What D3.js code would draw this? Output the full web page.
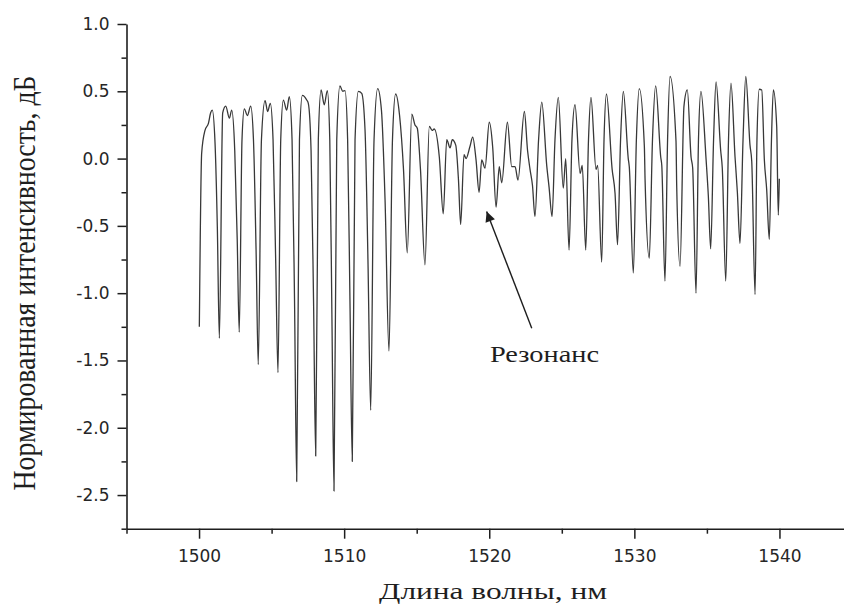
<!DOCTYPE html>
<html>
<head>
<meta charset="utf-8">
<script src="https://cdn.jsdelivr.net/npm/d3@7"></script>
<style>
  html, body { margin: 0; padding: 0; background: #fff; }
  svg { display: block; }
</style>
</head>
<body>
<svg id="chart" width="844" height="604"></svg>
<script>
// ---- data ----
const wavelength = [
  1500.02,1500.18,1500.41,1500.64,1500.80,1500.91,1501.10,1501.26,1501.40,
  1501.63,1501.84,1502.09,1502.25,1502.46,1502.63,1502.77,
  1502.96,1503.12,1503.33,1503.56,1503.75,1503.93,1504.08,
  1504.30,1504.55,1504.73,1504.91,1505.10,1505.28,1505.44,
  1505.63,1505.81,1506.04,1506.22,1506.41,1506.58,1506.73,
  1506.92,1507.12,1507.42,1507.53,1507.72,1507.89,1508.04,
  1508.22,1508.41,1508.63,1508.84,1509.01,1509.16,1509.30,
  1509.49,1509.71,1509.90,1510.06,1510.24,1510.40,1510.56,
  1510.75,1510.98,1511.21,1511.44,1511.64,1511.83,
  1512.06,1512.31,1512.57,1512.82,1513.09,
  1513.33,1513.55,1513.82,1514.09,1514.35,
  1514.66,1514.88,1515.04,1515.26,1515.57,
  1515.87,1516.06,1516.21,1516.56,1516.83,
  1517.07,1517.30,1517.45,1517.69,1517.88,1518.03,
  1518.26,1518.40,1518.67,1518.86,1519.09,1519.30,
  1519.48,1519.71,1520.00,1520.24,1520.47,
  1520.69,1520.86,1521.25,1521.55,1521.78,1521.98,
  1522.42,1522.64,1522.81,1522.98,1523.15,
  1523.40,1523.62,1523.96,1524.12,1524.33,
  1524.53,1524.76,1525.10,1525.27,1525.50,
  1525.70,1525.91,1526.26,1526.41,1526.65,
  1526.84,1527.01,1527.36,1527.47,1527.75,
  1527.91,1528.08,1528.47,1528.67,1528.84,
  1529.05,1529.24,1529.58,1529.65,1529.93,
  1530.14,1530.34,1530.69,1530.74,1531.03,
  1531.25,1531.47,1531.82,1531.89,1532.11,
  1532.29,1532.46,1532.87,1532.92,1533.15,
  1533.42,1533.65,1533.91,1534.02,1534.25,
  1534.42,1534.59,1534.94,1535.10,1535.26,
  1535.46,1535.63,1535.95,1536.06,1536.30,
  1536.49,1536.66,1536.94,1537.10,1537.28,
  1537.49,1537.68,1537.97,1538.09,1538.32,
  1538.45,1538.61,1538.78,1538.96,1539.12,1539.30,
  1539.45,1539.58,1539.81,1539.92,1539.99
];
const intensity = [
  -1.25,0.04,0.21,0.26,0.34,0.36,0.12,-0.51,-1.335,
  0.34,0.39,0.30,0.36,0.06,-0.60,-1.29,
  0.14,0.37,0.32,0.39,0.14,-0.68,-1.53,
  0.14,0.43,0.35,0.41,0.14,-0.75,-1.59,
  0.14,0.435,0.36,0.46,0.14,-1.05,-2.40,
  0.14,0.47,0.435,0.41,0.06,-1.05,-2.21,
  0.14,0.51,0.40,0.505,0.14,-1.20,-2.47,
  0.14,0.54,0.50,0.505,0.14,-1.05,-2.25,
  0.14,0.50,0.485,0.21,-0.75,-1.87,
  0.14,0.52,0.36,-0.31,-1.43,
  0.14,0.48,0.32,-0.08,-0.70,
  0.33,0.25,0.225,-0.08,-0.79,
  0.24,0.21,0.22,0.01,-0.41,
  0.14,0.08,0.14,0.10,-0.16,-0.49,
  0.03,0.00,0.09,0.16,-0.01,-0.25,
  -0.01,-0.07,0.27,0.08,-0.36,
  -0.06,-0.18,0.27,-0.06,-0.06,-0.16,
  0.35,0.06,-0.08,-0.20,-0.43,
  0.14,0.42,-0.05,-0.21,-0.43,
  0.14,0.455,-0.22,0.00,-0.68,
  0.14,0.40,-0.11,-0.05,-0.68,
  0.14,0.455,-0.08,-0.05,-0.77,
  0.14,0.48,-0.08,-0.26,-0.64,
  0.14,0.50,0.00,-0.06,-0.85,
  0.14,0.52,0.09,-0.16,-0.74,
  0.14,0.54,0.01,-0.05,-0.91,
  0.14,0.61,0.13,-0.21,-0.80,
  0.39,0.51,0.01,-0.07,-1.00,
  0.14,0.50,0.00,-0.28,-0.67,
  0.14,0.57,0.06,-0.07,-0.91,
  0.14,0.56,0.01,-0.25,-0.63,
  0.14,0.61,0.10,-0.02,-1.01,
  0.14,0.515,0.51,-0.01,-0.23,-0.60,
  0.14,0.51,0.24,-0.42,-0.15
];
const xMajorTicks = [1500, 1510, 1520, 1530, 1540];
const xMinorTicks = [1495, 1505, 1515, 1525, 1535, 1545];
const yMajorTicks = [-2.5, -2.0, -1.5, -1.0, -0.5, 0.0, 0.5, 1.0];
const yMinorTicks = [-2.75, -2.25, -1.75, -1.25, -0.75, -0.25, 0.25, 0.75];
const xTitle = "Длина волны, нм";
const yTitle = "Нормированная интенсивность, дБ";
const annotationText = "Резонанс";
const arrowTip = [1519.82, -0.394];
const arrowTail = [1522.93, -1.26];
const annotationPos = [1520.05, -1.51];

// ---- drawing ----
const svg = d3.select("#chart");
const x = d3.scaleLinear().domain([1495, 1545]).range([126.5, 852]);
const y = d3.scaleLinear().domain([-2.75, 1.0]).range([528.7, 24]);

const axisColor = "#1e1e1e";
const tickFont = "'DejaVu Sans', sans-serif";

// x axis
const gx = svg.append("g").attr("transform", `translate(0,${y(-2.75)})`);
gx.call(d3.axisBottom(x).tickValues(xMinorTicks).tickSize(5).tickSizeOuter(0).tickFormat(""));
gx.call(g => g.select(".domain").remove());
const gx2 = svg.append("g").attr("transform", `translate(0,${y(-2.75)})`);
gx2.call(d3.axisBottom(x).tickValues(xMajorTicks).tickSize(10).tickSizeOuter(0).tickPadding(11.5)
  .tickFormat(d => String(d)));
svg.selectAll("g .domain").attr("stroke", axisColor).attr("stroke-width", 1.6);

// y axis
const gy = svg.append("g").attr("transform", `translate(${x(1495)},0)`);
gy.call(d3.axisLeft(y).tickValues(yMinorTicks).tickSize(5).tickSizeOuter(0).tickFormat(""));
gy.call(g => g.select(".domain").remove());
const gy2 = svg.append("g").attr("transform", `translate(${x(1495)},0)`);
gy2.call(d3.axisLeft(y).tickValues(yMajorTicks).tickSize(9).tickSizeOuter(0).tickPadding(8)
  .tickFormat(d => d.toFixed(1)));

svg.selectAll(".domain").attr("stroke", axisColor).attr("stroke-width", 1.6);
svg.selectAll(".tick line").attr("stroke", axisColor).attr("stroke-width", 1.5);
svg.selectAll(".tick text").attr("font-family", tickFont).attr("font-size", 17).attr("fill", "#262626");

// spectrum line
const pts = wavelength.map((w, i) => [w, intensity[i]]);
svg.append("path")
  .datum(pts)
  .attr("fill", "none")
  .attr("stroke", "#383838")
  .attr("stroke-width", 1.3)
  .attr("stroke-linejoin", "round")
  .attr("d", d3.line().x(d => x(d[0])).y(d => y(d[1])).curve(d3.curveMonotoneX));

// axis titles
svg.append("text")
  .attr("x", 493).attr("y", 599)
  .attr("text-anchor", "middle")
  .attr("font-family", "'Liberation Serif', 'Times New Roman', serif")
  .attr("font-size", 24)
  .attr("textLength", 228).attr("lengthAdjust", "spacingAndGlyphs")
  .attr("fill", "#1e1e1e")
  .text(xTitle);

svg.append("text")
  .attr("transform", "translate(35,283) scale(1.25,1) rotate(-90)")
  .attr("text-anchor", "middle")
  .attr("font-family", "'Liberation Serif', 'Times New Roman', serif")
  .attr("font-size", 26)
  .attr("textLength", 415).attr("lengthAdjust", "spacingAndGlyphs")
  .attr("fill", "#1e1e1e")
  .text(yTitle);

// annotation
svg.append("defs").append("marker")
  .attr("id", "arrowhead")
  .attr("viewBox", "0 0 10 10")
  .attr("refX", 10).attr("refY", 5)
  .attr("markerWidth", 14).attr("markerHeight", 10)
  .attr("markerUnits", "userSpaceOnUse")
  .attr("orient", "auto")
  .append("path").attr("d", "M0,0 L10,5 L0,10 Z").attr("fill", "#1e1e1e");

svg.append("line")
  .attr("x1", x(arrowTail[0])).attr("y1", y(arrowTail[1]))
  .attr("x2", x(arrowTip[0])).attr("y2", y(arrowTip[1]))
  .attr("stroke", "#1e1e1e").attr("stroke-width", 1.4)
  .attr("marker-end", "url(#arrowhead)");

svg.append("text")
  .attr("x", x(annotationPos[0])).attr("y", y(annotationPos[1]))
  .attr("font-family", "'Liberation Serif', 'Times New Roman', serif")
  .attr("font-size", 23)
  .attr("textLength", 109).attr("lengthAdjust", "spacingAndGlyphs")
  .attr("fill", "#1e1e1e")
  .text(annotationText);
</script>
</body>
</html>
